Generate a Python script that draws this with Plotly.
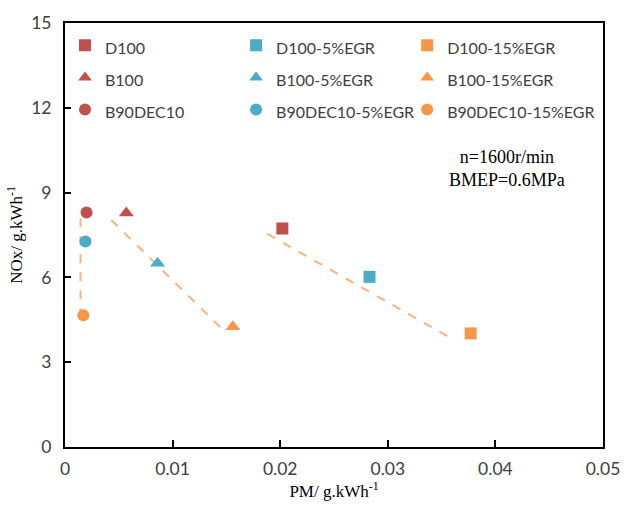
import plotly.graph_objects as go

# Emission measurements: PM (g/kWh) vs NOx (g/kWh)
series_names = [
    "D100", "D100-5%EGR", "D100-15%EGR",
    "B100", "B100-5%EGR", "B100-15%EGR",
    "B90DEC10", "B90DEC10-5%EGR", "B90DEC10-15%EGR",
]
pm_values = [0.0202, 0.0283, 0.0377,
             0.0057, 0.0086, 0.0156,
             0.0020, 0.0019, 0.0017]
nox_values = [7.73, 6.02, 4.02,
              8.28, 6.50, 4.25,
              8.30, 7.27, 4.66]

# Trend lines (start/end) for each fuel across EGR rates
trend_d100_x = [0.0188, 0.0361]
trend_d100_y = [7.54, 3.80]
trend_b100_x = [0.0043, 0.0144]
trend_b100_y = [8.03, 4.25]
trend_b90_x = [0.00144, 0.00144]
trend_b90_y = [8.09, 4.71]

x_ticks = [0, 0.01, 0.02, 0.03, 0.04, 0.05]
x_tick_text = ["0", "0.01", "0.02", "0.03", "0.04", "0.05"]
y_ticks = [0, 3, 6, 9, 12, 15]

RED = "#C0504D"
AQUA = "#4BACC6"
ORANGE = "#F79646"
colors = [RED, AQUA, ORANGE] * 3
symbols = ["square"] * 3 + ["triangle-up"] * 3 + ["circle"] * 3
sizes = [12] * 3 + [13] * 3 + [12] * 3
# one legend column per EGR rate
legend_ids = ["legend", "legend2", "legend3"] * 3

fig = go.Figure()

for tx, ty in [(trend_d100_x, trend_d100_y),
               (trend_b100_x, trend_b100_y),
               (trend_b90_x, trend_b90_y)]:
    fig.add_trace(go.Scatter(
        x=tx, y=ty, mode="lines", showlegend=False, hoverinfo="skip",
        line=dict(color="#F9B47E", width=2, dash="dash"),
    ))

for name, px, ny, c, s, sz, lg in zip(series_names, pm_values, nox_values,
                                       colors, symbols, sizes, legend_ids):
    fig.add_trace(go.Scatter(
        x=[px], y=[ny], mode="markers", legend=lg,
        name=f'<span style="font-size:16px">{name}</span>',
        marker=dict(color=c, symbol=s, size=sz, line=dict(width=0)),
    ))

axis_font = dict(family="Lato, 'Open Sans', sans-serif", size=17.5, color="#404040")
title_font = dict(family="'Liberation Serif', 'Times New Roman', serif", size=17, color="#000000")


def legend_column(x):
    return dict(
        orientation="v", x=x, y=0.997, xanchor="left", yanchor="top",
        font=dict(family="Lato, 'Open Sans', sans-serif", size=22.4, color="#404040"),
        bgcolor="rgba(0,0,0,0)", borderwidth=0,
        itemsizing="constant", tracegroupgap=0,
    )


fig.update_layout(
    width=632, height=507,
    margin=dict(l=65, r=20, t=17, b=60),
    paper_bgcolor="white", plot_bgcolor="white",
    showlegend=True,
    legend=legend_column(0.0),
    legend2=legend_column(0.318),
    legend3=legend_column(0.636),
    xaxis=dict(
        range=[0, 0.05], tickvals=x_ticks, ticktext=x_tick_text,
        showgrid=False, zeroline=False,
        showline=True, linecolor="#000000", linewidth=2, mirror=True,
        ticks="inside", ticklen=7, tickwidth=2, tickcolor="#000000",
        tickfont=axis_font, ticklabelstandoff=5,
        title=dict(text="PM/ g.kWh<sup>-1</sup>", font=title_font, standoff=4),
    ),
    yaxis=dict(
        range=[0, 15], tickvals=y_ticks,
        showgrid=False, zeroline=False,
        showline=True, linecolor="#000000", linewidth=2, mirror=True,
        ticks="inside", ticklen=6, tickwidth=2, tickcolor="#000000",
        tickfont=axis_font, ticklabelstandoff=8,
        title=dict(text="NOx/ g.kWh<sup>-1</sup>", font=title_font, standoff=4),
    ),
    annotations=[dict(
        text="n=1600r/min<br>BMEP=0.6MPa", xref="paper", yref="paper",
        x=0.821, y=0.658, xanchor="center", yanchor="middle", showarrow=False,
        font=dict(family="'Liberation Serif', 'Times New Roman', serif", size=18, color="#000000"),
    )],
)

fig.write_html("out.html")
